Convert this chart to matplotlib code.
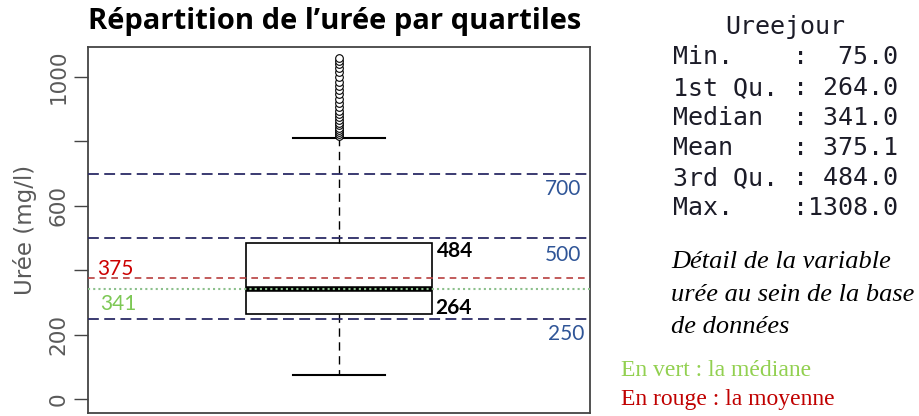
import matplotlib
matplotlib.use("Agg")
import matplotlib.pyplot as plt
import matplotlib.transforms as mtransforms

# ---------------- data ----------------
whisker_low = 75
q1 = 264
median = 341
q3 = 484
whisker_high = 810
mean_value = 375.1
outliers = [816, 822, 828, 835, 842, 850, 858, 866, 875, 884, 893, 905, 918,
            930, 945, 960, 972, 985, 1000, 1015, 1028, 1040, 1050, 1059, 1308]
ref_lines = [700, 500, 250]
y_ticks = [0, 200, 400, 600, 800, 1000]
y_tick_labels = ["0", "200", "", "600", "", "1000"]

summary_title = "Ureejour"
summary_labels = ["Min.", "1st Qu.", "Median", "Mean", "3rd Qu.", "Max."]
summary_values = ["75.0", "264.0", "341.0", "375.1", "484.0", "1308.0"]

W, H = 919, 416
fig = plt.figure(figsize=(W / 100, H / 100), dpi=100)
fig.patch.set_facecolor("white")

def fx(px):
    return px / W

def fy(py):
    return 1 - py / H

ax = fig.add_axes([fx(88), fy(413), fx(590) - fx(88), fy(47) - fy(413)])
ax.set_xlim(0.5, 1.5)
ax.set_ylim(-42, 1092)

stats = [dict(med=median, q1=q1, q3=q3, whislo=whisker_low, whishi=whisker_high,
              fliers=outliers, mean=mean_value)]
ax.bxp(stats, positions=[1], widths=0.37, showfliers=True, patch_artist=True,
       boxprops=dict(facecolor="white", edgecolor="black", linewidth=1.2),
       whiskerprops=dict(color="black", linestyle=(0, (6, 4)), linewidth=1.0),
       capprops=dict(color="black", linewidth=1.5),
       medianprops=dict(color="black", linewidth=4, solid_capstyle="butt"),
       flierprops=dict(marker="o", markersize=5.5, markerfacecolor="white",
                       markeredgecolor="black", markeredgewidth=0.8),
       zorder=2)

navy = "#2b2b66"
for v in ref_lines:
    ax.axhline(v, color=navy, linestyle=(0, (6, 3)), linewidth=1.3, zorder=3)
ax.axhline(mean_value, color="#b84040", linestyle=(0, (4, 3)), linewidth=1.2, zorder=3)
ax.axhline(median, color="#8cc08c", linestyle=(0, (1, 1.5)), linewidth=1.5, zorder=4)

ax.set_xticks([])
ax.set_yticks(y_ticks)
ax.set_yticklabels(y_tick_labels, rotation=90, va="center",
                   family="DejaVu Sans", fontsize=15.5, color="#5a5a5a")
ax.tick_params(axis="y", length=10, width=1, color="#444444", pad=4)
for s in ax.spines.values():
    s.set_color("#444444")
    s.set_linewidth(1.3)

ax.set_ylabel("Urée (mg/l)", family="DejaVu Sans", fontsize=16.5, color="#5a5a5a",
              labelpad=8)

tr = mtransforms.blended_transform_factory(ax.transAxes, ax.transData)
# value positions from pixel: value = (397 - y)/0.32
def pv(py):
    return (397 - py) / 0.32

ax.text(0.018, pv(268), f"{round(mean_value)}", transform=tr, color="#cc0000",
        family="Lato", fontsize=15, va="center", ha="left")
ax.text(0.024, pv(302), f"{median}", transform=tr, color="#7dc855",
        family="Lato", fontsize=15, va="center", ha="left")
ax.text(0.695, pv(250), f"{q3}", transform=tr, color="black",
        family="Lato", fontweight="bold", fontsize=15, va="center", ha="left")
ax.text(0.691, pv(306), f"{q1}", transform=tr, color="black",
        family="Lato", fontweight="bold", fontsize=15, va="center", ha="left")
blue = "#2f5597"
for v, (xa, py) in zip(ref_lines, [(0.910, 188), (0.910, 254), (0.916, 332)]):
    ax.text(xa, pv(py), f"{v}", transform=tr, color=blue,
            family="Lato", fontsize=15, va="center", ha="left")

# title
fig.text(fx(335), fy(21), "Répartition de l\u2019urée par quartiles", ha="center",
         va="center", family="Open Sans", fontweight="bold", fontsize=21, color="black")

# summary block
mono_col = "#1c1c28"
fig.text(fx(785), fy(27), summary_title, ha="center", va="center",
         family="DejaVu Sans Mono", fontsize=18, color=mono_col)
rows_y = [57, 88, 118, 148, 178, 208]
for lab, val, ry in zip(summary_labels, summary_values, rows_y):
    fig.text(fx(673), fy(ry), lab, ha="left", va="center",
             family="DejaVu Sans Mono", fontsize=18, color=mono_col)
    fig.text(fx(898), fy(ry), ":" + val.rjust(6), ha="right", va="center",
             family="DejaVu Sans Mono", fontsize=18, color=mono_col)

for txt, ry in zip(["Détail de la variable", "urée au sein de la base", "de données"],
                   [262, 295, 327]):
    fig.text(fx(671), fy(ry), txt, ha="left", va="center", family="Liberation Serif",
             style="italic", fontsize=19, color="black")

fig.text(fx(621), fy(370), "En vert : la médiane", ha="left", va="center",
         family="Liberation Serif", fontsize=17, color="#92d050")
fig.text(fx(621), fy(399), "En rouge : la moyenne", ha="left", va="center",
         family="Liberation Serif", fontsize=17, color="#c00000")

fig.savefig("out.png", dpi=100, facecolor="white")
